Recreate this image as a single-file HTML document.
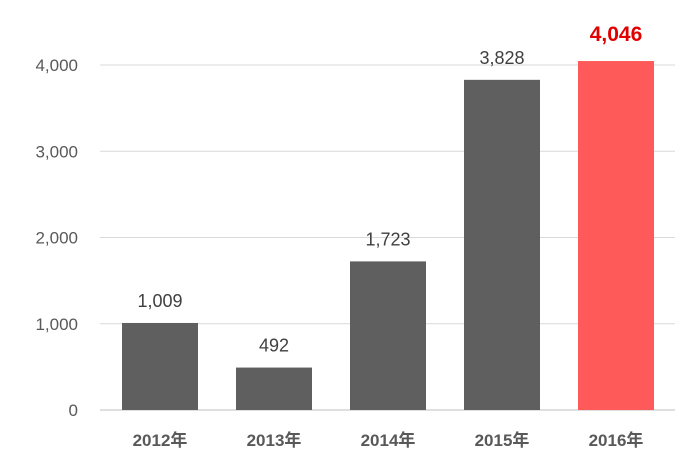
<!DOCTYPE html>
<html><head><meta charset="utf-8"><style>
body{margin:0;background:#fff;width:698px;height:465px;overflow:hidden}
svg{display:block;font-family:"Liberation Sans","Noto Sans CJK JP",sans-serif}
</style></head><body>
<svg id="chart" width="698" height="465"></svg>
<script>
const categories=["2012年","2013年","2014年","2015年","2016年"];
const values=[1009,492,1723,3828,4046];
const valueLabels=["1,009","492","1,723","3,828","4,046"];
const yTicks=[0,1000,2000,3000,4000];
const yTickLabels=["0","1,000","2,000","3,000","4,000"];
const NS="http://www.w3.org/2000/svg";
const svg=document.getElementById("chart");
const x0=103,bandW=114,barW=76,yBase=410,pxPer=0.08625;
const y=v=>yBase-v*pxPer;
const xc=i=>x0+bandW*i+bandW/2;
function mk(t,a){const e=document.createElementNS(NS,t);for(const k in a)e.setAttribute(k,a[k]);svg.appendChild(e);return e;}
yTicks.forEach((t,i)=>{
 const l=mk("line",{x1:100,x2:675,y1:y(t),y2:y(t),stroke:i===0?"#bfbfbf":"#d9d9d9","stroke-width":1});
 
 
 const tx=mk("text",{x:78,y:y(t)+6,"text-anchor":"end","font-size":17,fill:"#595959"});
 tx.textContent=yTickLabels[i];
 
 
});
values.forEach((v,i)=>{
 const last=i===values.length-1;
 const r=mk("rect",{x:xc(i)-barW/2,y:y(v),width:barW,height:yBase-y(v),fill:last?"#ff5a5a":"#5f5f5f"});
 
 
 const t=mk("text",{x:xc(i),y:y(v)-(last?20:16),"text-anchor":"middle","font-size":last?21:18,"font-weight":last?"bold":"normal",fill:last?"#e00000":"#404040"});
 t.textContent=valueLabels[i];
 
 
 const c=mk("text",{x:xc(i),y:446,"text-anchor":"middle","font-size":17,"font-weight":"bold",fill:"#595959"});
 c.textContent=categories[i];
 
 
});
</script>
</body></html>
